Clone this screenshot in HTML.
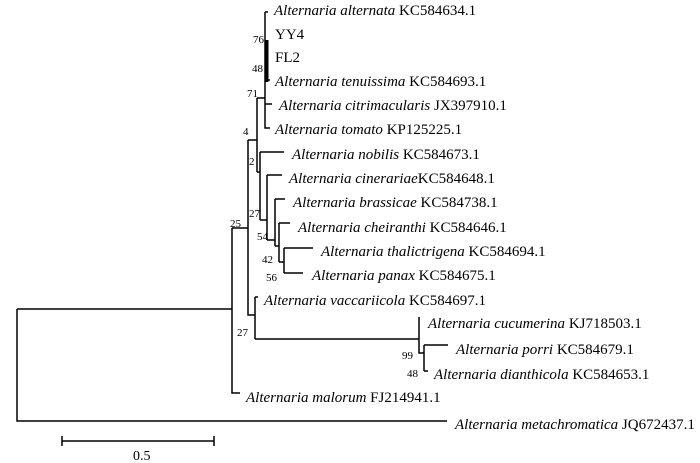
<!DOCTYPE html>
<html><head><style>
html,body{margin:0;padding:0;background:#fff;}
svg{display:block;}
text{font-family:"Liberation Serif",serif;font-size:15px;fill:#000;}
.i{font-style:italic;}
.n{font-size:11px;}
</style></head><body>
<svg width="700" height="463" viewBox="0 0 700 463" xmlns="http://www.w3.org/2000/svg">
<g stroke="#000" stroke-width="1.5" fill="none">
<path d="M17,309 V421 H447"/>
<path d="M17,309 H232"/>
<path d="M232,228 V393 H240"/>
<path d="M232,228 H248"/>
<path d="M248,140 V315 H255"/>
<path d="M255,297 V339"/>
<path d="M255,297 H258"/>
<path d="M255,339 H419"/>
<path d="M419,317 V353 H424"/>
<path d="M424,345 V371"/>
<path d="M424,345 H448"/>
<path d="M424,371 H428"/>
<path d="M248,140 H257"/>
<path d="M257,98 V172"/>
<path d="M257,98 H265"/>
<path d="M265,12 V128 H270"/>
<path d="M265,12 H268"/>
<path d="M265,80 H270"/>
<path d="M265,104 H272"/>
<path d="M257,172 H260"/>
<path d="M260,152 V220"/>
<path d="M260,152 H284"/>
<path d="M260,220 H267"/>
<path d="M267,175 V240"/>
<path d="M267,175 H282"/>
<path d="M267,240 H275"/>
<path d="M275,199 V246"/>
<path d="M275,199 H285"/>
<path d="M275,246 H279"/>
<path d="M279,223 V262"/>
<path d="M279,223 H290"/>
<path d="M279,262 H284"/>
<path d="M284,248 V273"/>
<path d="M284,248 H313"/>
<path d="M284,273 H303"/>
<path d="M62,441 H214 M62,436 V446 M214,436 V446"/>
</g>
<path d="M267,40 V82" stroke="#000" stroke-width="3"/>
<text x="274" y="15"><tspan class="i">Alternaria alternata</tspan> KC584634.1</text>
<text x="275" y="39">YY4</text>
<text x="275" y="62">FL2</text>
<text x="275" y="86"><tspan class="i">Alternaria tenuissima</tspan> KC584693.1</text>
<text x="279" y="110"><tspan class="i">Alternaria citrimacularis</tspan> JX397910.1</text>
<text x="275" y="134"><tspan class="i">Alternaria tomato</tspan> KP125225.1</text>
<text x="292" y="159"><tspan class="i">Alternaria nobilis</tspan> KC584673.1</text>
<text x="289" y="183"><tspan class="i">Alternaria cinerariae</tspan>KC584648.1</text>
<text x="293" y="207"><tspan class="i">Alternaria brassicae</tspan> KC584738.1</text>
<text x="298" y="232"><tspan class="i">Alternaria cheiranthi</tspan> KC584646.1</text>
<text x="321" y="256"><tspan class="i">Alternaria thalictrigena</tspan> KC584694.1</text>
<text x="312" y="280"><tspan class="i">Alternaria panax</tspan> KC584675.1</text>
<text x="264" y="305"><tspan class="i">Alternaria vaccariicola</tspan> KC584697.1</text>
<text x="428" y="328"><tspan class="i">Alternaria cucumerina</tspan> KJ718503.1</text>
<text x="456" y="354"><tspan class="i">Alternaria porri</tspan> KC584679.1</text>
<text x="434" y="379"><tspan class="i">Alternaria dianthicola</tspan> KC584653.1</text>
<text x="246" y="402"><tspan class="i">Alternaria malorum</tspan> FJ214941.1</text>
<text x="455" y="429"><tspan class="i">Alternaria metachromatica</tspan> JQ672437.1</text>
<text class="n" x="253" y="43">76</text>
<text class="n" x="252" y="72">48</text>
<text class="n" x="247" y="97">71</text>
<text class="n" x="243" y="135">4</text>
<text class="n" x="249" y="165">2</text>
<text class="n" x="249" y="217">27</text>
<text class="n" x="257" y="240">54</text>
<text class="n" x="262" y="263">42</text>
<text class="n" x="266" y="281">56</text>
<text class="n" x="230" y="227">25</text>
<text class="n" x="237" y="336">27</text>
<text class="n" x="402" y="359">99</text>
<text class="n" x="407" y="377">48</text>
<text x="133" y="460" style="font-size:14px">0.5</text>
</svg>
</body></html>
